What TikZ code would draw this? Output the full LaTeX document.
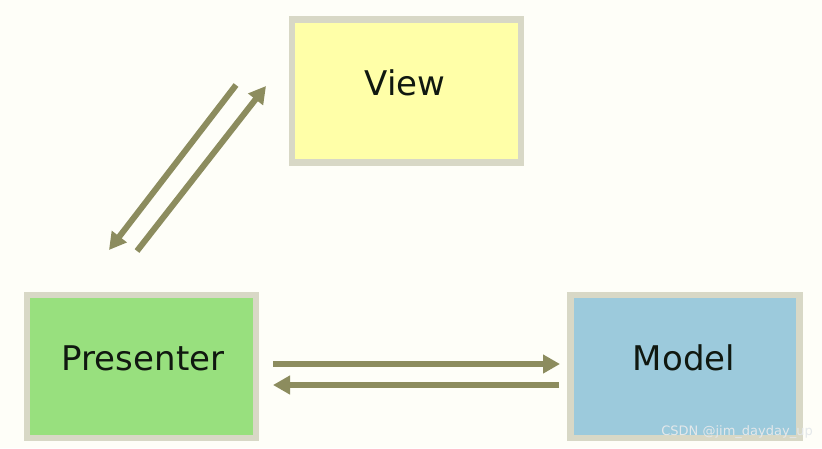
\documentclass[tikz,border=0pt]{standalone}
\usepackage{fontspec}
\setmainfont{DejaVu Sans}
\usetikzlibrary{arrows.meta}
\definecolor{bgc}{HTML}{FEFEF8}
\definecolor{framec}{HTML}{D8D8C6}
\definecolor{viewc}{HTML}{FFFFA8}
\definecolor{presc}{HTML}{98E07E}
\definecolor{modelc}{HTML}{9CCADC}
\definecolor{arrc}{HTML}{8C8C5E}
\definecolor{txtc}{HTML}{101810}
\definecolor{wmc}{HTML}{E4E8EA}
\tikzset{
  box/.style={draw=framec, line width=6.5pt, minimum width=229pt, minimum height=143pt, inner sep=0pt},
  lbl/.style={font=\fontsize{34}{40}\selectfont, text=txtc, inner sep=0pt},
  link/.style={draw=arrc, line width=6pt, -{Triangle[width=18pt,length=17pt]}}
}
\begin{document}
\begin{tikzpicture}[x=1pt,y=-1pt]
\path[fill=bgc] (0,0) rectangle (822,448);
\useasboundingbox (0,0) rectangle (822,448);
\node[box, fill=viewc] (view) at (406.5,91) {};
\node[box, fill=presc] (pres) at (141.5,366.5) {};
\node[box, fill=modelc] (model) at (685,366.5) {};
\node[lbl] (viewt) at (405,83) {View};
\node[lbl] (prest) at (143,358) {Presenter};
\node[lbl] (modelt) at (684,358) {Model};
\coordinate (d1s) at (236,85);
\coordinate (d1e) at (109,250);
\coordinate (d2s) at (137,251);
\coordinate (d2e) at (266,86);
\coordinate (h1s) at (273,364);
\coordinate (h1e) at (560,364);
\coordinate (h2s) at (559,385);
\coordinate (h2e) at (273,385);
\draw[link] (d1s) -- (d1e);
\draw[link] (d2s) -- (d2e);
\draw[link] (h1s) -- (h1e);
\draw[link] (h2s) -- (h2e);
\node[font=\fontsize{13}{15}\selectfont, text=wmc, anchor=east, inner sep=0pt] (wm) at (813,432) {CSDN @jim\_dayday\_up};
\end{tikzpicture}
\end{document}
